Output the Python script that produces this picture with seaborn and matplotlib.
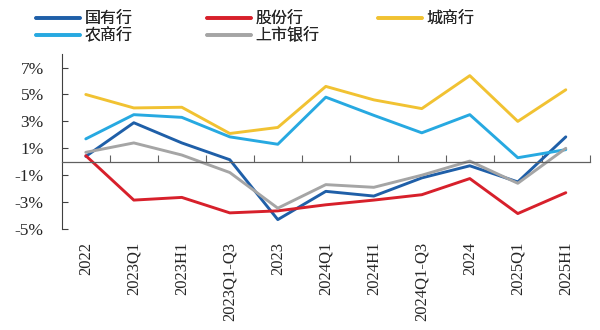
import matplotlib
matplotlib.use("Agg")
import matplotlib.pyplot as plt
import seaborn as sns
import pandas as pd
from matplotlib.ticker import FixedLocator
from matplotlib.lines import Line2D

categories = ["2022", "2023Q1", "2023H1", "2023Q1-Q3", "2023", "2024Q1", "2024H1",
              "2024Q1-Q3", "2024", "2025Q1", "2025H1"]
guoyou = [0.4, 2.9, 1.4, 0.15, -4.3, -2.2, -2.55, -1.2, -0.3, -1.5, 1.85]
gufen = [0.45, -2.85, -2.65, -3.8, -3.65, -3.2, -2.85, -2.45, -1.25, -3.85, -2.3]
chengshang = [5.0, 4.0, 4.05, 2.1, 2.55, 5.6, 4.6, 3.95, 6.4, 3.0, 5.35]
nongshang = [1.7, 3.5, 3.3, 1.85, 1.3, 4.8, 3.45, 2.15, 3.5, 0.3, 0.9]
shangshi = [0.7, 1.4, 0.5, -0.8, -3.45, -1.7, -1.9, -1.0, 0.05, -1.6, 1.0]
series_names = ["国有行", "股份行", "城商行", "农商行", "上市银行"]
yticks = [-5, -3, -1, 1, 3, 5, 7]

colors = {"国有行": "#1F5FA8", "股份行": "#D7202B", "城商行": "#F1C232",
          "农商行": "#27A9E1", "上市银行": "#A5A5A5"}

rows = []
for name, vals in zip(series_names, [guoyou, gufen, chengshang, nongshang, shangshi]):
    for c, v in zip(categories, vals):
        rows.append({"cat": c, "val": v, "series": name})
df = pd.DataFrame(rows)

sns.set_style("white")
plt.rcParams['font.family'] = ['Liberation Serif', 'Noto Sans CJK SC', 'DejaVu Sans']

fig = plt.figure(figsize=(6, 3.3), dpi=100)
ax = fig.add_axes([0.103, 0.306, 0.880, 0.530])

sns.lineplot(data=df, x="cat", y="val", hue="series", hue_order=series_names,
             palette=colors, sort=False, linewidth=2.1, ax=ax, legend=False)

ax.set_xlim(-0.5, 10.5)
ax.set_ylim(-5, 8)
ax.set_xlabel("")
ax.set_ylabel("")

# y axis
ax.set_yticks(yticks)
ax.set_yticklabels([f"{v}%" for v in yticks], fontsize=12.5)
ax.tick_params(axis="y", direction="in", length=4, width=0.8, color="#404040",
               left=True, pad=13)

# zero line with boundary ticks
for s in ["top", "right"]:
    ax.spines[s].set_visible(False)
ax.spines["left"].set_color("#404040")
ax.spines["left"].set_linewidth(0.8)
ax.spines["bottom"].set_position(("data", 0))
ax.spines["bottom"].set_color("#606060")
ax.spines["bottom"].set_linewidth(0.9)
ax.xaxis.set_major_locator(FixedLocator([i + 0.5 for i in range(len(categories))]))
ax.tick_params(axis="x", direction="in", length=5, width=0.8, color="#606060",
               bottom=True, labelbottom=False)

sec = ax.secondary_xaxis("bottom")
sec.set_xticks(range(len(categories)))
sec.set_xticklabels(categories, rotation=90, fontsize=12)
sec.tick_params(length=0, pad=9)
sec.spines["bottom"].set_visible(False)

legend_cols = [["国有行", "农商行"], ["股份行", "上市银行"], ["城商行"]]
col_x = [36, 207, 378]
for names, x in zip(legend_cols, col_x):
    handles = [Line2D([], [], color=colors[n], linewidth=2.6) for n in names]
    leg = fig.legend(handles, names, ncol=1, loc="upper left",
                     bbox_to_anchor=(x / 600, 1 - 11 / 330),
                     frameon=False, prop={"family": ["Noto Sans CJK SC"], "size": 11.5},
                     handlelength=2.75, handletextpad=0.3, labelspacing=-0.05,
                     borderpad=0, borderaxespad=0)
    fig.add_artist(leg)

fig.savefig("out.png", dpi=100)
